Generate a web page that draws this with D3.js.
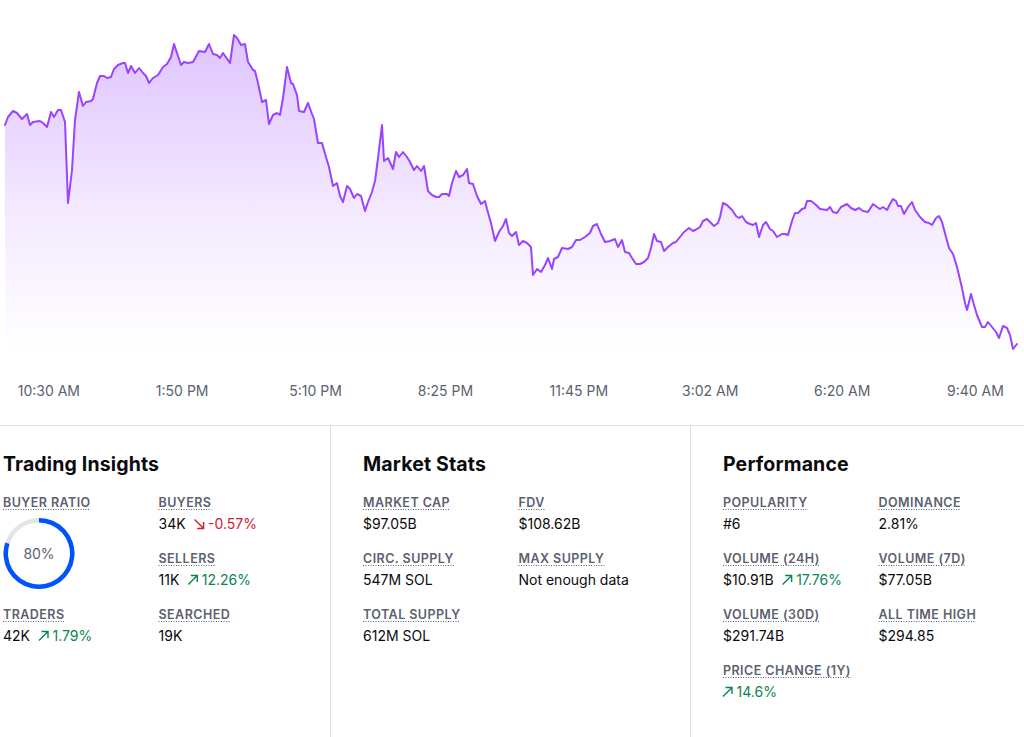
<!DOCTYPE html>
<html><head><meta charset="utf-8">
<script src="https://cdn.jsdelivr.net/npm/d3@7"></script>
<style>
body{margin:0;background:#fff;}
svg{display:block;font-family:Inter,"Noto Sans",sans-serif;}
</style></head><body>
<svg id="c" width="1024" height="737"></svg>
<script>
// ---- data (time steps of 1.5 min since start, price index) ----
const startTime = "2025-01-01T09:25";
const stepMinutes = 1.5;
const timeSteps = [0,3,8,12,17,22,25,28,35,38,42,46,49,53,56,60,63,67,70,74,78,81,86,88,92,95,99,102,106,109,113,118,120,123,126,130,134,138,141,144,148,153,158,162,166,169,172,176,179,183,188,194,200,204,208,212,215,218,225,229,232,236,240,243,245,248,250,253,257,261,264,268,272,275,278,282,286,288,292,294,299,303,307,309,313,317,321,324,328,332,335,338,342,345,349,352,356,360,363,367,370,373,377,379,383,388,391,394,398,402,405,409,412,416,419,423,427,431,434,437,442,444,447,451,454,458,462,464,468,472,476,480,482,486,490,494,498,501,504,507,511,514,518,522,526,528,532,536,540,543,547,549,553,557,563,567,571,575,580,585,588,592,596,600,605,610,613,617,620,624,627,631,635,639,643,646,649,652,656,659,663,668,671,675,679,684,688,692,695,698,702,706,709,713,715,718,722,727,731,734,737,741,745,748,751,754,758,761,765,768,772,777,780,783,787,790,793,797,800,802,806,810,815,822,825,828,832,836,842,846,850,854,858,863,868,872,875,878,882,885,888,891,893,896,899,903,907,910,915,920,924,927,931,934,937,941,944,948,952,957,960,962,966,969,972,977,980,983,987,991,994,998,1002,1005,1008,1012];
const priceIndex = [275,283,289,287,281,286,275,278,279,277,273,288,283,290,290,278,197,230,280,308,294,298,299,301,317,324,324,322,323,331,335,337,337,327,334,327,332,327,324,317,322,325,333,336,343,356,347,335,338,337,338,349,348,356,346,345,342,347,337,365,362,355,356,338,335,330,329,317,298,300,276,285,287,285,302,333,317,316,305,289,288,297,286,281,257,257,243,233,214,217,204,198,214,211,202,206,204,189,198,208,219,242,275,239,242,231,248,243,248,243,238,230,234,229,234,209,205,203,203,206,206,204,217,229,223,225,231,217,216,204,196,199,191,177,159,168,174,181,167,164,168,155,159,157,153,125,131,128,135,142,131,141,143,152,151,153,160,160,163,167,174,176,166,158,159,161,153,160,148,147,142,136,136,138,142,152,166,159,158,149,153,157,158,163,168,172,169,171,173,179,181,177,174,177,183,197,195,190,184,182,184,178,176,175,177,163,175,178,171,169,163,166,166,165,179,187,187,191,192,199,199,196,191,190,193,188,187,193,196,192,190,192,189,188,196,193,191,193,190,196,201,199,194,194,186,193,198,190,183,178,177,175,182,184,178,163,152,146,133,112,97,90,106,95,85,73,73,78,73,68,62,74,72,65,51,56];
const tickLabels = ["10:30 AM","1:50 PM","5:10 PM","8:25 PM","11:45 PM","3:02 AM","6:20 AM","9:40 AM"];
const tickClock = ["2025-01-01T10:30","2025-01-01T13:50","2025-01-01T17:10","2025-01-01T20:25","2025-01-01T23:45","2025-01-02T03:02","2025-01-02T06:20","2025-01-02T09:40"];

const panelTitles = ["Trading Insights","Market Stats","Performance"];
const buyerRatio = 80;
// [label, value, change, direction]
const tradingStats = [["BUYER RATIO","","",""],["BUYERS","34K","-0.57%","down"],null,["SELLERS","11K","12.26%","up"],["TRADERS","42K","1.79%","up"],["SEARCHED","19K","",""]];
const marketStats = [["MARKET CAP","$97.05B","",""],["FDV","$108.62B","",""],["CIRC. SUPPLY","547M SOL","",""],["MAX SUPPLY","Not enough data","",""],["TOTAL SUPPLY","612M SOL","",""]];
const performanceStats = [["POPULARITY","#6","",""],["DOMINANCE","2.81%","",""],["VOLUME (24H)","$10.91B","17.76%","up"],["VOLUME (7D)","$77.05B","",""],["VOLUME (30D)","$291.74B","",""],["ALL TIME HIGH","$294.85","",""],["PRICE CHANGE (1Y)","","14.6%","up"]];

// ---- chart ----
const svg = d3.select("#c");
const parse = d3.timeParse("%Y-%m-%dT%H:%M");
const t0 = parse(startTime);
const times = timeSteps.map(s => new Date(t0.getTime() + s * stepMinutes * 60000));
const pts = times.map((t, i) => ({t, v: priceIndex[i]}));
const x = d3.scaleTime().domain(d3.extent(times)).range([5, 1017]);
const y = d3.scaleLinear().domain(d3.extent(priceIndex)).range([349, 35]);
const lineColor = "#9945ff";

const defs = svg.append("defs");
const grad = defs.append("linearGradient").attr("id", "ag")
  .attr("gradientUnits", "userSpaceOnUse").attr("x1", 0).attr("x2", 0).attr("y1", 35).attr("y2", 352);
grad.append("stop").attr("offset", 0).attr("stop-color", lineColor).attr("stop-opacity", 0.32);
grad.append("stop").attr("offset", 0.6).attr("stop-color", lineColor).attr("stop-opacity", 0.1);
grad.append("stop").attr("offset", 1).attr("stop-color", lineColor).attr("stop-opacity", 0);

svg.append("path").datum(pts)
  .attr("fill", "url(#ag)")
  .attr("d", d3.area().x(d => x(d.t)).y0(352).y1(d => y(d.v)));
svg.append("path").datum(pts)
  .attr("fill", "none").attr("stroke", lineColor).attr("stroke-width", 2)
  .attr("stroke-linejoin", "round").attr("stroke-linecap", "round")
  .attr("d", d3.line().x(d => x(d.t)).y(d => y(d.v)));

const axis = d3.axisBottom(x).tickValues(tickClock.map(parse))
  .tickFormat((d, i) => tickLabels[i]).tickSize(0).tickPadding(0);
const ag = svg.append("g").attr("transform", "translate(0,386)").call(axis);
ag.select(".domain").remove();
ag.selectAll("text").attr("font-size", 14).attr("fill", "#5b616e")
  .attr("font-family", "Inter,'Noto Sans',sans-serif");

// ---- dividers ----
svg.append("line").attr("x1", 0).attr("x2", 1024).attr("y1", 425.5).attr("y2", 425.5).attr("stroke", "#dedfe2");
[330.5, 690.5].forEach(px => svg.append("line").attr("x1", px).attr("x2", px).attr("y1", 426).attr("y2", 737).attr("stroke", "#dedfe2"));

// ---- panels ----
const panelX = [3, 363, 723];
const colGap = 155.5, rowGap = 56;
const panels = [tradingStats, marketStats, performanceStats];
const red = "#cf202f", green = "#098551";

function arrow(g, ax, base, dir, color) {
  const p = dir === "up"
    ? `M${ax},${base} L${ax + 9},${base - 9} M${ax + 2.5},${base - 9} L${ax + 9},${base - 9} L${ax + 9},${base - 2.5}`
    : `M${ax},${base - 9} L${ax + 9},${base} M${ax + 9},${base - 6.5} L${ax + 9},${base} L${ax + 2.5},${base}`;
  g.append("path").attr("d", p).attr("fill", "none").attr("stroke", color).attr("stroke-width", 1.4);
}

panels.forEach((items, pi) => {
  const g = svg.append("g");
  g.append("text").attr("x", panelX[pi]).attr("y", 471).text(panelTitles[pi])
    .attr("font-size", 19.5).attr("font-weight", 700).attr("fill", "#0a0b0d").attr("letter-spacing", 0.15);
  items.forEach((it, k) => {
    if (!it) return;
    const col = k % 2, row = Math.floor(k / 2);
    const lx = panelX[pi] + col * colGap;
    const lb = 507 + row * rowGap;
    const lt = g.append("text").attr("x", lx).attr("y", lb).text(it[0])
      .attr("font-size", 12.5).attr("font-weight", 600).attr("fill", "#5b616e").attr("letter-spacing", 0.45);
    const w = lt.node().getComputedTextLength();
    g.append("line").attr("x1", lx).attr("x2", lx + w).attr("y1", lb + 2.5).attr("y2", lb + 2.5)
      .attr("stroke", "#5b616e").attr("stroke-width", 1).attr("stroke-dasharray", "1,1.5");
    const vb = lb + 22;
    let cx = lx;
    if (it[1]) {
      const vt = g.append("text").attr("x", lx).attr("y", vb).text(it[1])
        .attr("font-size", 14).attr("fill", "#0a0b0d");
      cx = lx + vt.node().getComputedTextLength() + 9;
    }
    if (it[2]) {
      const c = it[3] === "up" ? green : red;
      arrow(g, cx, vb - 0.5, it[3], c);
      g.append("text").attr("x", cx + 13.5).attr("y", vb).text(it[2])
        .attr("font-size", 14).attr("fill", c);
    }
  });
});

// donut for buyer ratio
const dc = svg.append("g").attr("transform", "translate(39,553.5)");
const arcG = d3.arc().innerRadius(31).outerRadius(35.5);
dc.append("path").attr("d", arcG({startAngle: 0, endAngle: 2 * Math.PI})).attr("fill", "#e3e4e7");
dc.append("path").attr("d", arcG({startAngle: 0, endAngle: 2 * Math.PI * buyerRatio / 100})).attr("fill", "#0052ff");
dc.append("text").attr("text-anchor", "middle").attr("dominant-baseline", "central").attr("y", 0)
  .text(buyerRatio + "%").attr("font-size", 14).attr("fill", "#5b616e");
</script>
</body></html>
